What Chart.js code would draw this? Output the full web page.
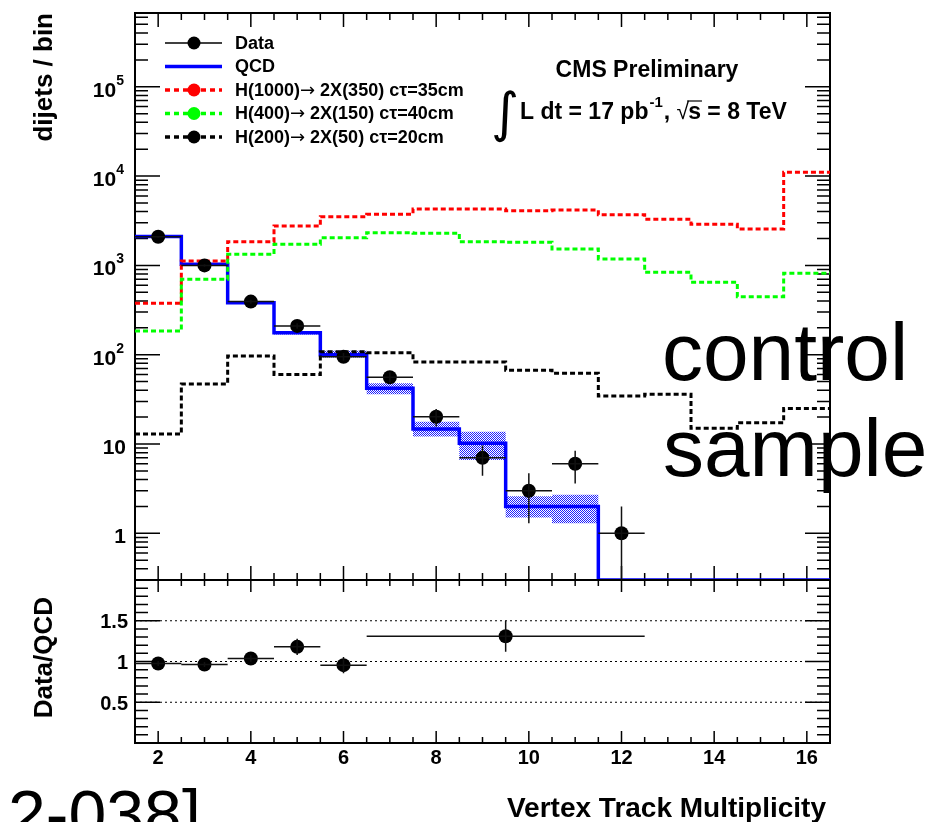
<!DOCTYPE html>
<html>
<head>
<meta charset="utf-8">
<script src="https://cdn.jsdelivr.net/npm/chart.js@4.4.0/dist/chart.umd.min.js"></script>
<style>
html, body { margin: 0; padding: 0; background: #fff; }
#wrap { position: relative; width: 949px; height: 822px; overflow: hidden; }
canvas { position: absolute; left: 0; top: 0; }
</style>
</head>
<body>
<div id="wrap">
<canvas id="main-chart" width="949" height="822"></canvas>
<canvas id="ratio-chart" width="949" height="822"></canvas>
</div>
<script>
// histogram bin centres (vertex track multiplicity), bin width 1
const bins = [2, 3, 4, 5, 6, 7, 8, 9, 10, 11, 12, 13, 14, 15, 16];

// QCD prediction and its uncertainty band
const qcd    = [2100, 1030, 382, 176, 100, 42, 14.7, 10.2, 2.0, 2.0, 0, 0, 0, 0, 0];
const qcd_lo = [2060, 1010, 372, 168, 93, 36, 12.1, 6.6, 1.5, 1.3, 0, 0, 0, 0, 0];
const qcd_hi = [2140, 1050, 392, 184, 111, 48, 17.8, 13.7, 2.6, 2.7, 0, 0, 0, 0, 0];

// signal samples
const sig_1000 = [376, 1120, 1845, 2760, 3515, 3730, 4270, 4270, 4100, 4170, 3680, 3290, 2885, 2560, 11030];
const sig_400  = [184, 698, 1330, 1720, 2040, 2320, 2290, 1845, 1815, 1527, 1180, 837, 646, 446, 815];
const sig_200  = [12.9, 47, 96.7, 60, 108, 105, 83, 83, 67, 62, 34.5, 36, 15, 17.3, 25];

// data points
const data_x   = [2, 3, 4, 5, 6, 7, 8, 9, 10, 11, 12];
const data_y   = [2090, 1000, 393, 210, 95, 56, 20.2, 7.0, 3.0, 6.0, 1.0];
const data_err = [46, 32, 20, 14.5, 9.7, 7.5, 4.5, 2.6, 1.7, 2.4, 1.0];

// data / QCD ratio
const ratio_x    = [2, 3, 4, 5, 6, 9.5];
const ratio_y    = [0.975, 0.963, 1.037, 1.18, 0.955, 1.31];
const ratio_xerr = [0.5, 0.5, 0.5, 0.5, 0.5, 3];
const ratio_yerr = [0.03, 0.03, 0.04, 0.1, 0.1, 0.19];

// tick labels
const x_tick_vals = [2, 4, 6, 8, 10, 12, 14, 16];
const y_tick_vals = [1, 10, 100, 1000, 10000, 100000];
const y_tick_base = ['1', '10', '10', '10', '10', '10'];
const y_tick_exp  = ['', '', '2', '3', '4', '5'];
const ratio_tick_vals = [0.5, 1, 1.5];
const ratio_tick_text = ['0.5', '1', '1.5'];

const X_MIN = 1.5, X_MAX = 16.5;
const Y_MIN = 0.3, Y_MAX = 6.7e5;
const BIN_W = 1;
const FONT = '"Liberation Sans", Arial, Helvetica, sans-serif';

// histogram -> points on the bin edges (empty bins sit on the frame, like ROOT)
function step_points(values){
    let pts = [];
    for (let i = 0; i < bins.length; i++){
        pts.push({x: bins[i] - BIN_W / 2, y: values[i] > 0 ? values[i] : Y_MIN});
    }
    pts.push({x: bins[bins.length - 1] + BIN_W / 2, y: pts[pts.length - 1].y});
    return pts;
}

function make_hatch(){
    let c = document.createElement('canvas');
    c.width = 2; c.height = 2;
    let g = c.getContext('2d');
    g.fillStyle = 'rgb(30,30,255)';
    g.fillRect(0, 0, 1, 1);
    g.fillRect(1, 1, 1, 1);
    return g.createPattern(c, 'repeat');
}

function x_ticks(ctx, xs, y, dir, major_len, minor_len){
    for (let v = 2; v <= X_MAX + 0.01; v += 0.5){
        let len = (v % 2 === 0) ? major_len : minor_len;
        let px = xs.getPixelForValue(v);
        ctx.moveTo(px, y);
        ctx.lineTo(px, y + dir * len);
    }
}

// legend text, with the arrow taken from a font that draws it full size
function draw_label(ctx, text, x, y){
    let parts = text.split('\u2192');
    ctx.font = 'bold 18px ' + FONT;
    ctx.fillText(parts[0], x, y);
    x += ctx.measureText(parts[0]).width;
    if (parts.length > 1){
        ctx.font = '18px "DejaVu Sans"';
        ctx.fillText('\u2192', x, y);
        x += ctx.measureText('\u2192').width;
        ctx.font = 'bold 18px ' + FONT;
        ctx.fillText(parts[1], x, y);
    }
}

const main_frame = {
    id: 'main_frame',
    beforeDatasetsDraw(chart){
        const ctx = chart.ctx, a = chart.chartArea;
        const xs = chart.scales.x, ys = chart.scales.y;
        ctx.save();
        ctx.strokeStyle = '#000';
        ctx.lineWidth = 1.5;
        ctx.beginPath();
        x_ticks(ctx, xs, a.bottom, -1, 14, 7);
        x_ticks(ctx, xs, a.top, 1, 14, 7);
        for (let d = -1; d <= 5; d++){
            for (let k = 1; k <= 9; k++){
                let v = k * Math.pow(10, d);
                if (v < Y_MIN || v > Y_MAX) continue;
                let py = ys.getPixelForValue(v);
                let len = k === 1 ? 25 : 13;
                ctx.moveTo(a.left, py); ctx.lineTo(a.left + len, py);
                ctx.moveTo(a.right, py); ctx.lineTo(a.right - len, py);
            }
        }
        ctx.stroke();
        ctx.lineWidth = 2;
        ctx.strokeRect(a.left, a.top, a.right - a.left, a.bottom - a.top);
        ctx.restore();
    }
};

const data_errors = {
    id: 'data_errors',
    afterDatasetsDraw(chart){
        const ctx = chart.ctx, a = chart.chartArea;
        const xs = chart.scales.x, ys = chart.scales.y;
        ctx.save();
        ctx.strokeStyle = '#111';
        ctx.lineWidth = 1.5;
        ctx.beginPath();
        for (let i = 0; i < data_x.length; i++){
            let px = xs.getPixelForValue(data_x[i]);
            let py = ys.getPixelForValue(data_y[i]);
            ctx.moveTo(xs.getPixelForValue(data_x[i] - BIN_W / 2), py);
            ctx.lineTo(xs.getPixelForValue(data_x[i] + BIN_W / 2), py);
            let lo = data_y[i] - data_err[i];
            ctx.moveTo(px, lo > 0 ? ys.getPixelForValue(lo) : a.bottom);
            ctx.lineTo(px, ys.getPixelForValue(data_y[i] + data_err[i]));
        }
        ctx.stroke();
        ctx.restore();
    }
};

const main_text = {
    id: 'main_text',
    afterDraw(chart){
        const ctx = chart.ctx;
        const ys = chart.scales.y;
        const ds = chart.data.datasets;
        ctx.save();
        ctx.fillStyle = '#000';
        ctx.textAlign = 'right';
        ctx.textBaseline = 'alphabetic';
        // y tick labels
        for (let i = 0; i < y_tick_vals.length; i++){
            let py = ys.getPixelForValue(y_tick_vals[i]);
            let right = 126;
            if (y_tick_exp[i]){
                ctx.font = 'bold 14px ' + FONT;
                let w = ctx.measureText(y_tick_exp[i]).width;
                ctx.fillText(y_tick_exp[i], 124, py - 2);
                right = 124 - w;
            }
            ctx.font = 'bold 21px ' + FONT;
            ctx.fillText(y_tick_base[i], right, py + 10);
        }
        // y title
        ctx.save();
        ctx.translate(52, 13);
        ctx.rotate(-Math.PI / 2);
        ctx.font = 'bold 26px ' + FONT;
        ctx.fillText('dijets / bin', 0, 0);
        ctx.restore();

        // legend
        const entries = [
            {ds: ds[0], line: 'data'},
            {ds: ds[4], line: 'solid'},
            {ds: ds[3], line: 'dash'},
            {ds: ds[2], line: 'dash'},
            {ds: ds[1], line: 'dash'}
        ];
        ctx.textAlign = 'left';
        ctx.textBaseline = 'middle';
        entries.forEach((e, i) => {
            let y = 43 + i * 23.5;
            ctx.save();
            ctx.beginPath();
            ctx.moveTo(165, y); ctx.lineTo(222, y);
            ctx.strokeStyle = e.ds.borderColor;
            ctx.lineWidth = e.line === 'data' ? 1.5 : 3.5;
            if (e.line === 'dash') ctx.setLineDash([5, 4]);
            ctx.stroke();
            ctx.restore();
            if (e.line !== 'solid'){
                ctx.beginPath();
                ctx.arc(194, y, 6.5, 0, Math.PI * 2);
                ctx.fillStyle = e.ds.borderColor;
                ctx.fill();
            }
            ctx.fillStyle = '#000';
            draw_label(ctx, e.ds.label, 235, y + 1);
        });

        // CMS label and luminosity
        ctx.textAlign = 'center';
        ctx.textBaseline = 'alphabetic';
        ctx.font = 'bold 23px ' + FONT;
        ctx.fillText('CMS Preliminary', 647, 77);

        ctx.textAlign = 'left';
        ctx.font = '54px "DejaVu Sans"';
        ctx.fillText('\u222B', 491, 131);
        let x = 520;
        const base = 119;
        ctx.font = 'bold 23px ' + FONT;
        ctx.fillText('L dt = 17 pb', x, base);
        x += ctx.measureText('L dt = 17 pb').width;
        ctx.font = 'bold 15px ' + FONT;
        ctx.fillText('-1', x + 1, base - 12);
        x += ctx.measureText('-1').width + 2;
        ctx.font = 'bold 23px ' + FONT;
        ctx.fillText(', ', x, base);
        x += ctx.measureText(', ').width;
        ctx.font = '23px ' + FONT;
        ctx.fillText('\u221A', x, base);
        x += ctx.measureText('\u221A').width - 1;
        ctx.font = 'bold 23px ' + FONT;
        let sw = ctx.measureText('s').width;
        ctx.fillText('s', x, base);
        ctx.beginPath();
        ctx.moveTo(x - 1, base - 18);
        ctx.lineTo(x + sw + 1, base - 18);
        ctx.lineWidth = 1.2;
        ctx.strokeStyle = '#000';
        ctx.stroke();
        x += sw;
        ctx.fillText(' = 8 TeV', x, base);

        // overlay annotation
        ctx.font = '82px ' + FONT;
        ctx.fillText('control', 662, 380);
        ctx.fillText('sample', 663, 476);
        ctx.restore();
    }
};

const ratio_frame = {
    id: 'ratio_frame',
    beforeDatasetsDraw(chart){
        const ctx = chart.ctx, a = chart.chartArea;
        const xs = chart.scales.x, ys = chart.scales.y;
        ctx.save();
        ctx.strokeStyle = '#000';
        ctx.lineWidth = 1;
        ctx.setLineDash([2, 3]);
        ctx.beginPath();
        ratio_tick_vals.forEach(v => {
            let py = ys.getPixelForValue(v);
            ctx.moveTo(a.left, py); ctx.lineTo(a.right, py);
        });
        ctx.stroke();
        ctx.setLineDash([]);
        ctx.lineWidth = 1.5;
        ctx.beginPath();
        x_ticks(ctx, xs, a.top, 1, 12, 6);
        x_ticks(ctx, xs, a.bottom, -1, 12, 6);
        for (let i = 1; i <= 19; i++){
            let py = ys.getPixelForValue(i / 10);
            let len = i % 5 === 0 ? 25 : 13;
            ctx.moveTo(a.left, py); ctx.lineTo(a.left + len, py);
            ctx.moveTo(a.right, py); ctx.lineTo(a.right - len, py);
        }
        ctx.stroke();
        ctx.lineWidth = 2;
        ctx.strokeRect(a.left, a.top, a.right - a.left, a.bottom - a.top);
        ctx.restore();
    }
};

const ratio_errors = {
    id: 'ratio_errors',
    afterDatasetsDraw(chart){
        const ctx = chart.ctx;
        const xs = chart.scales.x, ys = chart.scales.y;
        ctx.save();
        ctx.strokeStyle = '#111';
        ctx.lineWidth = 1.5;
        ctx.beginPath();
        for (let i = 0; i < ratio_x.length; i++){
            let px = xs.getPixelForValue(ratio_x[i]);
            let py = ys.getPixelForValue(ratio_y[i]);
            ctx.moveTo(xs.getPixelForValue(ratio_x[i] - ratio_xerr[i]), py);
            ctx.lineTo(xs.getPixelForValue(ratio_x[i] + ratio_xerr[i]), py);
            ctx.moveTo(px, ys.getPixelForValue(ratio_y[i] - ratio_yerr[i]));
            ctx.lineTo(px, ys.getPixelForValue(ratio_y[i] + ratio_yerr[i]));
        }
        ctx.stroke();
        ctx.restore();
    }
};

const ratio_text = {
    id: 'ratio_text',
    afterDraw(chart){
        const ctx = chart.ctx;
        const xs = chart.scales.x, ys = chart.scales.y;
        ctx.save();
        ctx.fillStyle = '#000';
        ctx.font = 'bold 20px ' + FONT;
        ctx.textAlign = 'center';
        ctx.textBaseline = 'alphabetic';
        x_tick_vals.forEach(v => {
            ctx.fillText(String(v), xs.getPixelForValue(v), 764);
        });
        ctx.textAlign = 'right';
        ratio_tick_vals.forEach((v, i) => {
            ctx.fillText(ratio_tick_text[i], 128, ys.getPixelForValue(v) + 7.5);
        });
        ctx.save();
        ctx.translate(52, 597);
        ctx.rotate(-Math.PI / 2);
        ctx.font = 'bold 26px ' + FONT;
        ctx.fillText('Data/QCD', 0, 0);
        ctx.restore();
        ctx.font = 'bold 28px ' + FONT;
        ctx.fillText('Vertex Track Multiplicity', 826, 817);
        ctx.textAlign = 'left';
        ctx.font = '68px ' + FONT;
        ctx.fillText('2-038]', 8, 838);
        ctx.restore();
    }
};

const hatch = make_hatch();
const dash_style = {stepped: true, borderWidth: 3, borderDash: [5, 3], pointRadius: 0, fill: false};

const main_chart = new Chart(document.getElementById('main-chart').getContext('2d'), {
    type: 'line',
    data: {
        datasets: [
            {label: 'Data', data: data_x.map((x, i) => ({x: x, y: data_y[i]})), showLine: false,
             pointRadius: 7, pointHoverRadius: 7, pointBackgroundColor: '#000', pointBorderColor: '#000',
             pointBorderWidth: 0, borderColor: '#000'},
            Object.assign({label: 'H(200)\u2192 2X(50) c\u03C4=20cm', data: step_points(sig_200), borderColor: '#000'}, dash_style),
            Object.assign({label: 'H(400)\u2192 2X(150) c\u03C4=40cm', data: step_points(sig_400), borderColor: '#00ff00'}, dash_style),
            Object.assign({label: 'H(1000)\u2192 2X(350) c\u03C4=35cm', data: step_points(sig_1000), borderColor: '#ff0000'}, dash_style),
            {label: 'QCD', data: step_points(qcd), stepped: true, borderColor: '#0000ff', borderWidth: 3.5,
             pointRadius: 0, fill: false, clip: 0},
            {label: 'QCD up', data: step_points(qcd_hi), stepped: true, borderColor: 'rgba(0,0,0,0)',
             borderWidth: 0, pointRadius: 0, fill: '+1', backgroundColor: hatch},
            {label: 'QCD down', data: step_points(qcd_lo), stepped: true, borderColor: 'rgba(0,0,0,0)',
             borderWidth: 0, pointRadius: 0, fill: false}
        ]
    },
    options: {
        responsive: false,
        animation: false,
        events: [],
        layout: {padding: {left: 135, top: 13, right: 119, bottom: 242}},
        plugins: {legend: {display: false}, tooltip: {enabled: false}},
        scales: {
            x: {type: 'linear', min: X_MIN, max: X_MAX, display: false},
            y: {type: 'logarithmic', min: Y_MIN, max: Y_MAX, display: false}
        }
    },
    plugins: [main_frame, data_errors, main_text]
});

const ratio_chart = new Chart(document.getElementById('ratio-chart').getContext('2d'), {
    type: 'line',
    data: {
        datasets: [
            {label: 'Data/QCD', data: ratio_x.map((x, i) => ({x: x, y: ratio_y[i]})), showLine: false,
             pointRadius: 7, pointHoverRadius: 7, pointBackgroundColor: '#000', pointBorderColor: '#000',
             pointBorderWidth: 0, borderColor: '#000'}
        ]
    },
    options: {
        responsive: false,
        animation: false,
        events: [],
        layout: {padding: {left: 135, top: 580, right: 119, bottom: 79}},
        plugins: {legend: {display: false}, tooltip: {enabled: false}},
        scales: {
            x: {type: 'linear', min: X_MIN, max: X_MAX, display: false},
            y: {type: 'linear', min: 0, max: 2, display: false}
        }
    },
    plugins: [ratio_frame, ratio_errors, ratio_text]
});
</script>
</body>
</html>
